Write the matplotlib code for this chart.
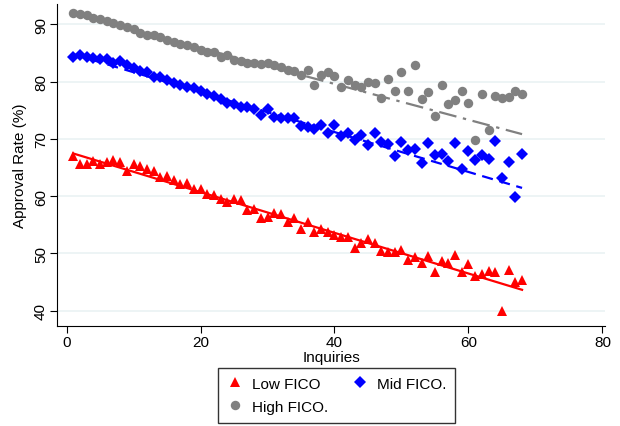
import numpy as np
import matplotlib
matplotlib.use("Agg")
import matplotlib.pyplot as plt

plt.rcParams['font.family'] = ['Liberation Sans', 'DejaVu Sans']

# inquiries 1..68
inquiries = list(range(1, 69))

low_fico = [67.0, 65.6, 65.6, 66.1, 65.6, 66.0, 66.3, 66.0, 64.4, 65.6,
            65.2, 64.7, 64.4, 63.4, 63.6, 62.8, 62.1, 62.3, 61.2, 61.2,
            60.3, 60.2, 59.5, 58.9, 59.5, 59.3, 57.6, 57.8, 56.1, 56.3,
            57.1, 56.8, 55.5, 56.1, 54.2, 55.5, 53.8, 54.3, 53.8, 53.2,
            52.9, 52.8, 50.9, 51.9, 52.6, 51.8, 50.4, 50.3, 50.2, 50.6,
            48.9, 49.3, 48.3, 49.6, 46.8, 48.6, 48.3, 49.7, 46.8, 48.1,
            46.1, 46.4, 46.9, 46.8, 40.0, 47.1, 45.0, 45.3]

mid_fico = [84.2, 84.6, 84.3, 84.1, 83.9, 83.9, 83.3, 83.6, 82.9, 82.3,
            81.9, 81.7, 80.8, 80.7, 80.2, 79.8, 79.4, 79.1, 78.8, 78.4,
            77.9, 77.5, 76.9, 76.3, 76.0, 75.5, 75.6, 75.2, 74.2, 75.2,
            73.8, 73.7, 73.6, 73.6, 72.3, 72.0, 71.8, 72.4, 71.0, 72.4,
            70.5, 71.1, 69.8, 70.6, 68.9, 71.0, 69.5, 69.1, 67.0, 69.5,
            68.1, 68.3, 65.7, 69.2, 67.1, 67.4, 66.1, 69.2, 64.7, 67.9,
            66.3, 67.1, 66.4, 69.6, 63.2, 65.9, 59.9, 67.4]

high_fico = [91.9, 91.7, 91.6, 91.0, 90.9, 90.6, 90.2, 89.8, 89.5, 89.2,
             88.5, 88.1, 88.1, 87.7, 87.3, 86.9, 86.5, 86.3, 86.1, 85.5,
             85.2, 85.1, 84.3, 84.6, 83.7, 83.5, 83.3, 83.2, 83.1, 83.3,
             82.8, 82.5, 82.0, 81.9, 81.1, 82.0, 79.4, 81.1, 81.6, 81.0,
             79.1, 80.2, 79.4, 79.1, 79.9, 79.7, 77.2, 80.5, 78.4, 81.6,
             78.4, 82.8, 77.0, 78.2, 74.0, 79.4, 76.0, 76.8, 78.4, 76.2,
             69.8, 77.9, 71.6, 77.5, 77.1, 77.3, 78.3, 77.8]

# fitted lines (intercept, slope)
fit_low = [67.8, -0.355]
fit_mid = [85.1, -0.348]
fit_high = [92.1, -0.313]

x = np.array(inquiries)

fig = plt.figure(figsize=(6.2, 4.27), dpi=100)
ax = fig.add_axes([0.092, 0.234, 0.884, 0.754])

h1, = ax.plot(x, low_fico, '^', color='#ff0000', ms=7, mew=0, zorder=3)
h2, = ax.plot(x, mid_fico, 'D', color='#0000ff', ms=6.5, mew=0, zorder=3)
h3, = ax.plot(x, high_fico, 'o', color='#808080', ms=6.8, mew=0, zorder=3)

for (a, b), col, ls in [(fit_low, '#ff0000', '-'),
                        (fit_mid, '#0000ff', (0, (5, 3))),
                        (fit_high, '#808080', (0, (8, 3, 1.5, 3)))]:
    ax.plot(x, a + b * x, color=col, ls=ls, lw=1.6, zorder=2.5)

ax.set_xlim(-1.42, 80.4)
ax.set_ylim(37.33, 93.5)
ax.set_xticks([0, 20, 40, 60, 80])
ax.set_yticks([40, 50, 60, 70, 80, 90])
ax.grid(axis='y', color='#eaf2f3', lw=1.2, zorder=0)
ax.set_axisbelow(True)
for s in ['top', 'right']:
    ax.spines[s].set_visible(False)
ax.tick_params(direction='out', length=5, labelsize=11, colors='black', pad=1.5)
for lab in ax.get_yticklabels():
    lab.set_rotation(90)
    lab.set_va('center')
ax.set_xlabel('Inquiries', fontsize=11, labelpad=1)
ax.set_ylabel('Approval Rate (%)', fontsize=11, labelpad=5)

leg = fig.legend([h1, h3, h2], ['Low FICO', 'High FICO.', 'Mid FICO.'],
                 ncol=2, loc='center', bbox_to_anchor=(0.543, 0.072),
                 fontsize=11, frameon=True, fancybox=False, edgecolor='black',
                 handlelength=1.0, handletextpad=0.6, columnspacing=1.6,
                 borderpad=0.6, labelspacing=0.6)
leg.get_frame().set_linewidth(1.0)

fig.savefig('out.png', dpi=100)
